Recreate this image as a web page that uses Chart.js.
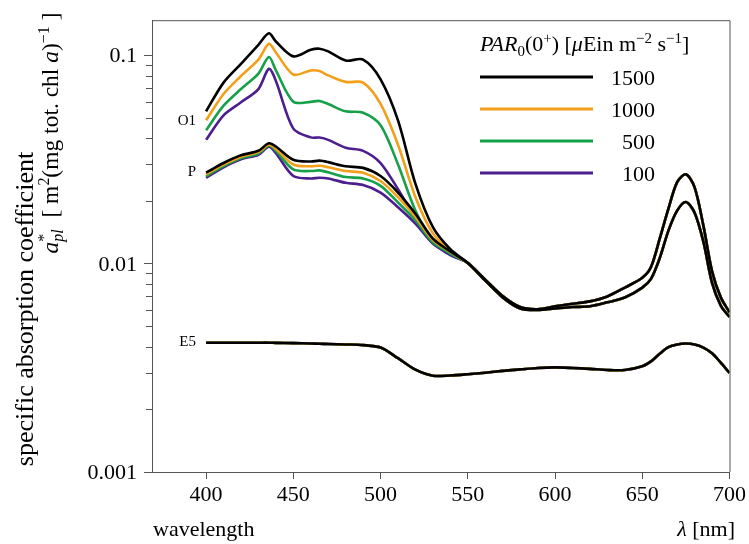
<!DOCTYPE html>
<html>
<head>
<meta charset="utf-8">
<script src="https://cdn.jsdelivr.net/npm/chart.js@4.4.1/dist/chart.umd.min.js"></script>
<style>
  html, body { margin: 0; padding: 0; background: #fff; }
  #wrap { width: 749px; height: 544px; position: relative; }
</style>
</head>
<body>
<div id="wrap"><canvas id="c" width="749" height="544"></canvas></div>
<script>
// ---------- data ----------
const LAMBDA = [400,410,420,430,436,440,450,460,465,470,480,490,500,510,520,530,540,550,560,570,580,590,600,610,620,630,640,650,655,660,665,670,675,680,685,690,695,700];

// red part (>= 560) shared by all irradiances within a group
const O1_RED = [0.0084,0.0070,0.0062,0.00605,0.00625,0.00643,0.0066,0.00697,0.00769,0.00857,0.00966,0.0132,0.0184,0.0247,0.0269,0.0233,0.0153,0.0092,0.0069,0.00585];
const P_RED  = [0.0083,0.0069,0.0061,0.0060,0.0061,0.0062,0.00625,0.00653,0.00689,0.00769,0.00847,0.01065,0.01444,0.0180,0.0198,0.0176,0.0128,0.0081,0.0063,0.00555];

// 400 ... 550 nm
const O1_1500 = [0.0540,0.0742,0.0913,0.1127,0.128,0.117,0.0992,0.1067,0.108,0.1048,0.0947,0.0957,0.0770,0.0489,0.0242,0.0150,0.01175,0.0101];
const O1_1000 = [0.0489,0.0654,0.0798,0.0957,0.114,0.1036,0.0812,0.0849,0.0843,0.0804,0.0748,0.0742,0.0586,0.0373,0.0209,0.0140,0.0115,0.0101];
const O1_500  = [0.0438,0.0575,0.0691,0.0820,0.0985,0.0850,0.0601,0.0600,0.0606,0.0586,0.0540,0.0532,0.0463,0.0300,0.0180,0.0130,0.0112,0.0101];
const O1_100  = [0.0394,0.0517,0.0597,0.0691,0.0865,0.0756,0.0446,0.0405,0.0404,0.0394,0.0361,0.0349,0.0305,0.0228,0.0165,0.0126,0.0110,0.0101];

const P_1500 = [0.0274,0.0305,0.0332,0.0349,0.0379,0.0366,0.0316,0.0310,0.0313,0.0308,0.0294,0.0289,0.0264,0.0220,0.0174,0.0132,0.01146,0.0101];
const P_1000 = [0.0269,0.0300,0.0327,0.0344,0.0373,0.0357,0.0300,0.0294,0.0296,0.0291,0.0279,0.0274,0.0250,0.0209,0.0168,0.0130,0.0114,0.0101];
const P_500  = [0.0264,0.0295,0.0322,0.0339,0.0370,0.0349,0.0284,0.0279,0.0281,0.0275,0.0261,0.0257,0.0237,0.0197,0.0162,0.0127,0.01125,0.0101];
const P_100  = [0.0259,0.0291,0.0318,0.0334,0.0365,0.0340,0.0264,0.0257,0.0259,0.0257,0.0245,0.0239,0.0220,0.0187,0.0156,0.0125,0.0111,0.0101];

const E5_ALL = [0.00418,0.00418,0.00418,0.00418,0.00418,0.00417,0.00416,0.00414,0.00413,0.00412,0.00410,0.00407,0.00396,0.00352,0.00310,0.00290,0.00291,0.00295,0.00300,0.00306,0.00311,0.00316,0.00318,0.00316,0.00313,0.00309,0.00309,0.00322,0.00340,0.00370,0.00398,0.00410,0.00414,0.00410,0.00396,0.00372,0.00335,0.00299];

const PAR_LABELS = ['1500','1000','500','100'];
const PAR_COLORS = ['#000000','#F29F1A','#17A04A','#4C1E8E'];
const GROUP_LABELS = ['O1','P','E5'];
const X_TICKS = [400,450,500,550,600,650,700];
const Y_MAJOR = [0.001,0.01,0.1];
const Y_LABELS = ['0.001','0.01','0.1'];
const Y_MINOR = [0.002,0.003,0.004,0.005,0.006,0.007,0.008,0.009,0.02,0.03,0.04,0.05,0.06,0.07,0.08,0.09];

// ---------- build ----------
const groups = {
  O1: [O1_1500, O1_1000, O1_500, O1_100].map(a => a.concat(O1_RED)),
  P:  [P_1500, P_1000, P_500, P_100].map(a => a.concat(P_RED)),
  E5: [E5_ALL, E5_ALL, E5_ALL, E5_ALL]
};
const datasets = [];
PAR_LABELS.forEach((lab, k) => {
  GROUP_LABELS.forEach(g => {
    datasets.push({
      label: g + ' ' + lab,
      data: LAMBDA.map((x, i) => ({ x: x, y: groups[g][k][i] })),
      borderColor: PAR_COLORS[k],
      borderWidth: 2.6,
      pointRadius: 0,
      fill: false,
      tension: 0.3,
      order: k
    });
  });
});

const FONT = '"Liberation Serif", "Times New Roman", serif';
const FRAME = '#555555';

function segFont(s, size) {
  const sz = (s.sup || s.sub) ? size * 0.68 : size;
  return (s.it ? 'italic ' : '') + sz + 'px ' + FONT;
}
function segWidth(ctx, s, size) {
  if (s.stack) {
    ctx.font = segFont(s.stack[0], size); const a = ctx.measureText(s.stack[0].t).width;
    ctx.font = segFont(s.stack[1], size); const b = ctx.measureText(s.stack[1].t).width;
    return Math.max(a, b);
  }
  ctx.font = segFont(s, size);
  return ctx.measureText(s.t).width;
}
function drawSeg(ctx, s, x, y, size) {
  if (s.stack) { s.stack.forEach(q => drawSeg(ctx, q, x, y, size)); return; }
  ctx.font = segFont(s, size);
  let dy = 0;
  if (s.sup) dy = -size * 0.38;
  if (s.sub) dy = size * 0.22;
  ctx.fillText(s.t, x, y + dy);
}
function rich(ctx, segs, x, y, size, align) {
  let w = 0; segs.forEach(s => w += segWidth(ctx, s, size));
  let cx = align === 'center' ? x - w / 2 : (align === 'right' ? x - w : x);
  ctx.textAlign = 'left';
  ctx.textBaseline = 'alphabetic';
  segs.forEach(s => { drawSeg(ctx, s, cx, y, size); cx += segWidth(ctx, s, size); });
  return w;
}

const decor = {
  id: 'decor',
  afterDraw(chart) {
    const ctx = chart.ctx, ca = chart.chartArea, ys = chart.scales.y;
    ctx.save();
    // frame top/right
    ctx.strokeStyle = FRAME; ctx.lineWidth = 1;
    ctx.beginPath();
    ctx.moveTo(ca.left, ca.top + 0.5); ctx.lineTo(ca.right + 0.5, ca.top + 0.5); ctx.lineTo(ca.right + 0.5, ca.bottom);
    ctx.stroke();
    // minor ticks
    ctx.beginPath();
    Y_MINOR.forEach(v => {
      const py = Math.round(ys.getPixelForValue(v)) + 0.5;
      ctx.moveTo(ca.left - 6, py); ctx.lineTo(ca.left, py);
    });
    ctx.stroke();

    ctx.fillStyle = '#000';
    // group labels
    ctx.font = '15px ' + FONT; ctx.textAlign = 'right'; ctx.textBaseline = 'middle';
    ctx.fillText('O1', 196, 121);
    ctx.fillText('P', 196, 172);
    ctx.fillText('E5', 196, 342);

    // legend
    rich(ctx, [
      {t:'PAR', it:true}, {t:'0', sub:true}, {t:'(0'}, {t:'+', sup:true}, {t:') ['},
      {t:'\u03bc', it:true}, {t:'Ein m'}, {t:'\u22122', sup:true}, {t:' s'}, {t:'\u22121', sup:true}, {t:']'}
    ], 480, 51, 22, 'left');
    const ly = [77, 109, 141, 173];
    PAR_LABELS.forEach((lab, k) => {
      ctx.strokeStyle = PAR_COLORS[k]; ctx.lineWidth = 2.8;
      ctx.beginPath(); ctx.moveTo(480, ly[k]); ctx.lineTo(593, ly[k]); ctx.stroke();
      ctx.font = '22px ' + FONT; ctx.textAlign = 'right'; ctx.textBaseline = 'alphabetic';
      ctx.fillText(lab, 655, ly[k] + 8);
    });

    // x titles
    ctx.font = '22px ' + FONT; ctx.textAlign = 'left'; ctx.textBaseline = 'alphabetic';
    ctx.fillText('wavelength', 153, 536);
    rich(ctx, [{t:'\u03bb', it:true}, {t:' [nm]'}], 735, 536, 22, 'right');

    // y titles (rotated)
    ctx.save();
    ctx.translate(33, 309); ctx.rotate(-Math.PI / 2);
    rich(ctx, [{t:'specific absorption coefficient'}], 0, 0, 26, 'center');
    ctx.restore();
    ctx.save();
    ctx.translate(58, 133); ctx.rotate(-Math.PI / 2);
    rich(ctx, [
      {t:'a', it:true}, {stack:[{t:'*', sup:true}, {t:'pl', sub:true, it:true}]},
      {t:'  [ m'}, {t:'2', sup:true}, {t:'(mg tot. chl '}, {t:'a', it:true}, {t:')'}, {t:'\u22121', sup:true}, {t:' ]'}
    ], 0, 0, 23.5, 'center');
    ctx.restore();
    ctx.restore();
  }
};

new Chart(document.getElementById('c'), {
  type: 'line',
  data: { datasets: datasets },
  options: {
    responsive: false,
    animation: false,
    devicePixelRatio: 1,
    layout: { padding: { left: 0, right: 17, top: 13, bottom: 0 } },
    plugins: { legend: { display: false }, tooltip: { enabled: false } },
    scales: {
      x: {
        type: 'linear', min: 369, max: 700,
        afterBuildTicks: s => { s.ticks = X_TICKS.map(v => ({ value: v })); },
        afterFit: s => { s.height = 72; },
        grid: { display: true, drawOnChartArea: false, drawTicks: true, tickLength: 7, color: FRAME },
        border: { display: true, color: FRAME, width: 1 },
        ticks: { color: '#000', font: { family: FONT, size: 22 }, padding: 3, maxRotation: 0, autoSkip: false,
                 callback: v => String(v) }
      },
      y: {
        type: 'logarithmic', min: 0.001, max: 0.148,
        afterBuildTicks: s => { s.ticks = Y_MAJOR.map(v => ({ value: v, major: true })); },
        afterFit: s => { s.width = 152; },
        grid: { display: true, drawOnChartArea: false, drawTicks: true, tickLength: 8, color: FRAME },
        border: { display: true, color: FRAME, width: 1 },
        ticks: { color: '#000', font: { family: FONT, size: 22 }, padding: 7, labelOffset: 1, autoSkip: false,
                 callback: (v) => { const i = Y_MAJOR.findIndex(m => Math.abs(m - v) / m < 1e-6); return i >= 0 ? Y_LABELS[i] : ''; } }
      }
    }
  },
  plugins: [decor]
});
</script>
</body>
</html>
